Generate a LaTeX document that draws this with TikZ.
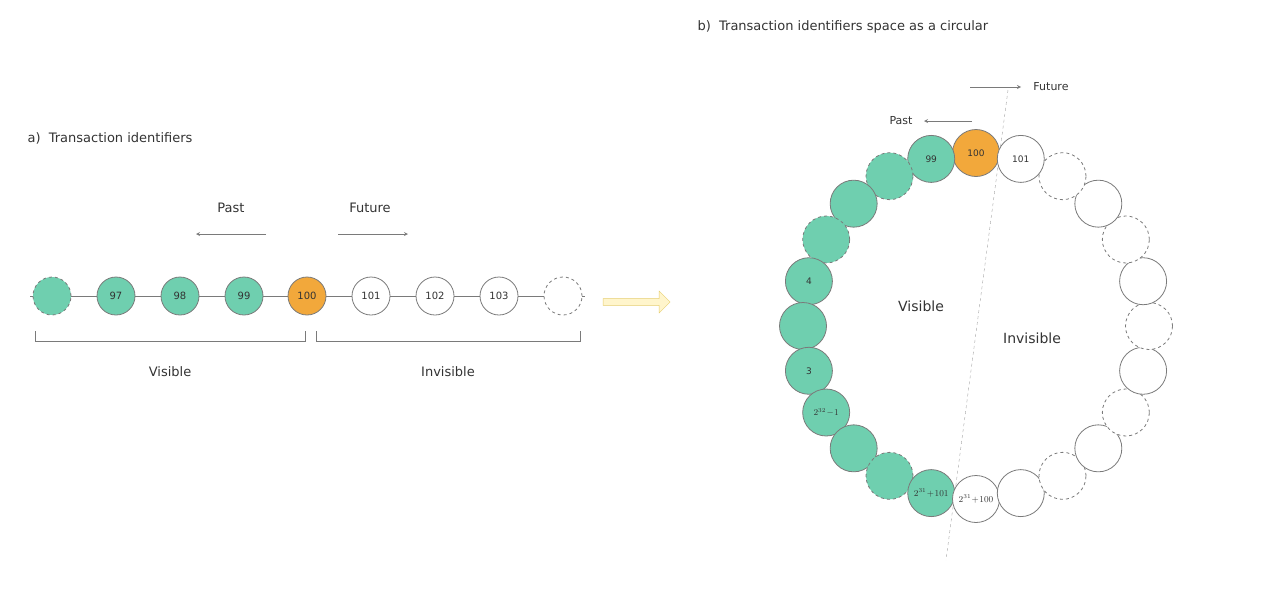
\documentclass[tikz,border=0pt]{standalone}
\usepackage{fontspec}
\setmainfont{DejaVu Sans}
\usetikzlibrary{arrows,shapes.arrows,positioning,shapes,calc}
\definecolor{past}{HTML}{6FCFAF}
\definecolor{now}{HTML}{F2A83B}
\definecolor{edge}{HTML}{7A7A7A}
\definecolor{txt}{HTML}{333333}
\tikzset{
  txid/.style = {circle, draw = edge, thick, minimum size = 38pt, inner sep = 0pt, font = \fontsize{10}{10}\selectfont, text = txt},
  rtxid/.style = {txid, minimum size = 47pt, font = \fontsize{9}{9}\selectfont},
  txvis/.style = {fill = past},
  txcur/.style = {fill = now},
  txinv/.style = {fill = white},
  txgap/.style = {dashed},
  txvisgap/.style = {txvis, txgap},
  txinvgap/.style = {txinv, txgap},
  lbl/.style = {font = \fontsize{13}{13}\selectfont, text = txt},
}
\begin{document}
\begin{tikzpicture}[x = 1pt, y = -1pt]
    \useasboundingbox (0,0) rectangle (1280,606);
    % a) linear identifiers
    \node[lbl, anchor = west] at (24,138) {a)\ \ Transaction identifiers};
    \coordinate (l0) at (30,296);
    \coordinate (l9) at (585,296);
    \node[txid, txvisgap] (n1) at (52,296) {};
    \node[txid, txvis] (n2) at (116,296) {97};
    \node[txid, txvis] (n3) at (180,296) {98};
    \node[txid, txvis] (n4) at (244,296) {99};
    \node[txid, txcur] (n5) at (307,296) {100};
    \node[txid, txinv] (n6) at (371,296) {101};
    \node[txid, txinv] (n7) at (435,296) {102};
    \node[txid, txinv] (n8) at (499,296) {103};
    \node[txid, txinvgap] (n9) at (563,296) {};
    \draw[edge, thick] (l0) -- (n1);
    \foreach \i/\j in {1/2,2/3,3/4,4/5,5/6,6/7,7/8,8/9}
        \draw[edge, thick] (n\i) -- (n\j);
    \draw[edge, thick] (n9) -- (l9);
    \draw[edge, thick] (35,331) -- (35,341) -- (305,341) -- (305,331);
    \draw[edge, thick] (316,331) -- (316,341) -- (580,341) -- (580,331);
    \node[lbl] at (170,372) {Visible};
    \node[lbl] at (448,372) {Invisible};
    \node[lbl] (past) at (231,208) {Past};
    \node[lbl] (future) at (370,208) {Future};
    \draw[->, >=stealth, edge, thick] (266,234) -- (196,234);
    \draw[->, >=stealth, edge, thick] (338,234) -- (408,234);
    \node[single arrow, draw = {rgb,255:red,230;green,205;blue,110}, fill = {rgb,255:red,255;green,245;blue,204},
          minimum width = 22pt, single arrow head extend = 5pt, minimum height = 67pt, inner sep = 2pt] (go) at (635,302) {};
    % b) circular identifiers
    \node[lbl, anchor = west] at (694,27) {b)\ \ Transaction identifiers space as a circular};
    \draw[edge!70, dashed] (1008,90) -- (946,560);
    \foreach \a/\s/\t in {90/txcur/100, 105/txvis/99, 120/txvisgap/, 135/txvis/, 150/txvisgap/,
        165/txvis/4, 180/txvis/, 195/txvis/3, 210/txvis/$2^{32}\!-\!1$, 225/txvis/, 240/txvisgap/,
        255/txvis/$2^{31}\!+\!101$, 270/txinv/$2^{31}\!+\!100$, 285/txinv/, 300/txinvgap/, 315/txinv/,
        330/txinvgap/, 345/txinv/, 0/txinvgap/, 15/txinv/, 30/txinvgap/, 45/txinv/, 60/txinvgap/, 75/txinv/101}
        \node[rtxid, \s] (c\a) at ($(976,326) + (\a:173 and -173)$) {\t};
    \node[lbl] (pastr) at (901,121) {\fontsize{11}{11}\selectfont Past};
    \node[lbl] (futurer) at (1051,87) {\fontsize{11}{11}\selectfont Future};
    \draw[->, >=stealth, edge, thick] (972,121) -- (924,121);
    \draw[->, >=stealth, edge, thick] (970,87) -- (1021,87);
    \node[lbl, font = \fontsize{14}{14}\selectfont] at (921,306) {Visible};
    \node[lbl, font = \fontsize{14}{14}\selectfont] at (1032,338) {Invisible};
\end{tikzpicture}
\end{document}
